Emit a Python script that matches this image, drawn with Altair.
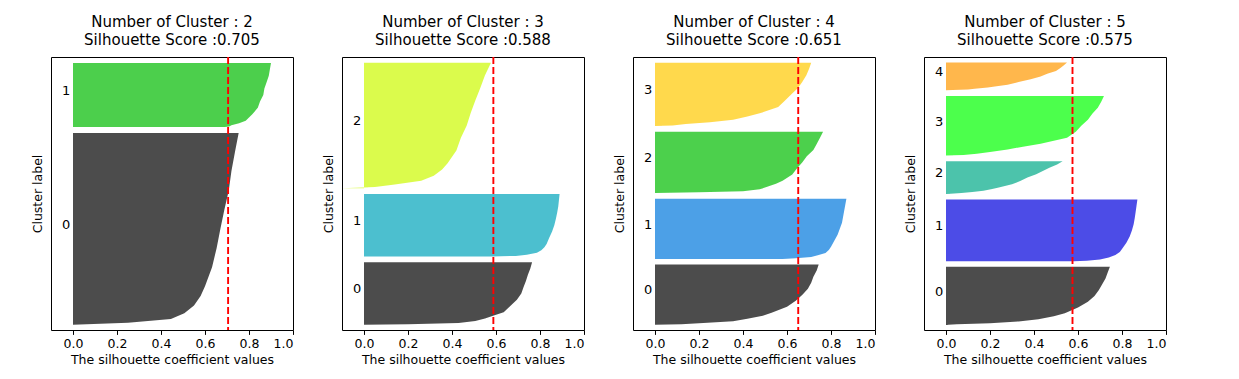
import altair as alt
import pandas as pd

FONT = "DejaVu Sans"
N_SAMPLES = 480
GAP = 10
LABEL_X = -0.05
X_TICKS = [0.0, 0.2, 0.4, 0.6, 0.8, 1.0]
QUANTILES = [0, 0.01, 0.03, 0.06, 0.1, 0.15, 0.2, 0.3, 0.4, 0.5, 0.6, 0.7, 0.8, 0.9, 1.0]

K_VALUES = [2, 3, 4, 5]
SCORES = [0.705, 0.588, 0.651, 0.575]

K2_SIZES = [359, 121]
K2_COLORS = ["#000000", "#00bb00"]
K2_PROFILES = [
    [0.0, 0.25, 0.445, 0.506, 0.55, 0.58, 0.60, 0.632, 0.653, 0.67, 0.688, 0.708, 0.72, 0.736, 0.753],
    [0.69, 0.71, 0.72, 0.755, 0.785, 0.80, 0.815, 0.84, 0.85, 0.865, 0.87, 0.88, 0.89, 0.895, 0.90],
]

K3_SIZES = [120, 120, 240]
K3_COLORS = ["#000000", "#00a4bb", "#ccf900"]
K3_PROFILES = [
    [0.0, 0.20, 0.43, 0.506, 0.55, 0.59, 0.635, 0.665, 0.695, 0.715, 0.725, 0.736, 0.745, 0.756, 0.764],
    [0.58, 0.69, 0.74, 0.786, 0.806, 0.82, 0.83, 0.842, 0.855, 0.865, 0.872, 0.878, 0.883, 0.886, 0.889],
    [-0.1, 0.05, 0.14, 0.26, 0.317, 0.355, 0.38, 0.42, 0.44, 0.467, 0.485, 0.506, 0.529, 0.55, 0.577],
]

K4_SIZES = [118, 118, 120, 124]
K4_COLORS = ["#000000", "#0078dd", "#00bc00", "#ffc900"]
K4_PROFILES = [
    [0.0, 0.12, 0.22, 0.355, 0.42, 0.49, 0.53, 0.60, 0.64, 0.67, 0.695, 0.71, 0.72, 0.735, 0.744],
    [0.58, 0.64, 0.71, 0.74, 0.775, 0.79, 0.80, 0.815, 0.83, 0.84, 0.85, 0.855, 0.86, 0.865, 0.87],
    [0.0, 0.2, 0.4, 0.476, 0.51, 0.55, 0.58, 0.624, 0.645, 0.67, 0.69, 0.72, 0.735, 0.75, 0.764],
    [-0.01, 0.08, 0.14, 0.25, 0.355, 0.42, 0.476, 0.56, 0.59, 0.62, 0.65, 0.67, 0.688, 0.70, 0.71],
]

K5_SIZES = [116, 123, 66, 119, 56]
K5_COLORS = ["#000000", "#0000dd", "#00aa88", "#00ff00", "#ff9900"]
K5_PROFILES = [
    [-0.01, 0.05, 0.2, 0.33, 0.42, 0.49, 0.54, 0.60, 0.645, 0.675, 0.695, 0.71, 0.725, 0.735, 0.745],
    [0.58, 0.64, 0.70, 0.74, 0.77, 0.79, 0.80, 0.82, 0.835, 0.845, 0.853, 0.858, 0.862, 0.866, 0.87],
    [-0.01, 0.02, 0.07, 0.12, 0.17, 0.21, 0.24, 0.30, 0.34, 0.37, 0.41, 0.44, 0.47, 0.505, 0.53],
    [-0.01, 0.08, 0.14, 0.20, 0.28, 0.35, 0.43, 0.55, 0.59, 0.615, 0.645, 0.665, 0.69, 0.705, 0.718],
    [0.0, 0.03, 0.1, 0.13, 0.19, 0.23, 0.28, 0.33, 0.385, 0.43, 0.46, 0.50, 0.52, 0.536, 0.55],
]

ALL_SIZES = [K2_SIZES, K3_SIZES, K4_SIZES, K5_SIZES]
ALL_COLORS = [K2_COLORS, K3_COLORS, K4_COLORS, K5_COLORS]
ALL_PROFILES = [K2_PROFILES, K3_PROFILES, K4_PROFILES, K5_PROFILES]


def panel(k, score, sizes, colors, profiles):
    rows, labels = [], []
    y_lower = GAP
    for i, (size, col, prof) in enumerate(zip(sizes, colors, profiles)):
        for q, v in zip(QUANTILES, prof):
            rows.append({"cluster": i, "col": col, "pos": y_lower + q * (size - 1),
                         "val": v, "zero": 0.0})
        labels.append({"label": str(i), "pos": y_lower + 0.5 * size, "val": LABEL_X})
        y_lower += size + GAP
    ymax = N_SAMPLES + (k + 1) * GAP
    df = pd.DataFrame(rows)
    ldf = pd.DataFrame(labels)

    x = alt.X("val:Q", stack=None,
              scale=alt.Scale(domain=[-0.1, 1.0], nice=False, zero=False),
              axis=alt.Axis(values=X_TICKS, format=".1f",
                            title="The silhouette coefficient values"))
    y = alt.Y("pos:Q",
              scale=alt.Scale(domain=[0, ymax], nice=False, zero=False),
              axis=alt.Axis(labels=False, ticks=False, domain=False, grid=False,
                            title="Cluster label", titlePadding=7))

    area = alt.Chart(df).mark_area(orient="horizontal", fillOpacity=0.7, clip=True).encode(
        x=x, x2="zero:Q", y=y,
        color=alt.Color("col:N", scale=None), detail="cluster:N")
    text = alt.Chart(ldf).mark_text(align="left", baseline="alphabetic", font=FONT,
                                     fontSize=13, color="#000000").encode(
        x="val:Q", y="pos:Q", text="label:N")
    rule = alt.Chart(pd.DataFrame({"val": [score]})).mark_rule(
        color="#ff0000", strokeDash=[7, 3], strokeWidth=1.9).encode(x="val:Q")

    return alt.layer(area, text, rule).properties(
        width=242, height=273,
        title=alt.Title([f"Number of Cluster : {k}", f"Silhouette Score :{score:.3f}"],
                        font=FONT, fontSize=15, fontWeight="normal", color="#000000",
                        anchor="middle", lineHeight=18, offset=8))


panels = [panel(k, s, sz, c, p) for k, s, sz, c, p in
          zip(K_VALUES, SCORES, ALL_SIZES, ALL_COLORS, ALL_PROFILES)]

chart = alt.hconcat(*panels, spacing=27).properties(
    padding={"left": 22, "top": 6, "right": 5, "bottom": 5},
    background="white"
).configure_view(stroke="#000000", strokeWidth=1).configure_axis(
    labelFont=FONT, labelFontSize=12.5, labelColor="#000000",
    titleFont=FONT, titleFontSize=12.5, titleFontWeight="normal", titleColor="#000000",
    tickColor="#000000", tickSize=4.4, tickWidth=1, labelPadding=3, titlePadding=4,
    domain=False, grid=False
)

chart.save("out.html", embed_options={"renderer": "svg", "actions": False})
